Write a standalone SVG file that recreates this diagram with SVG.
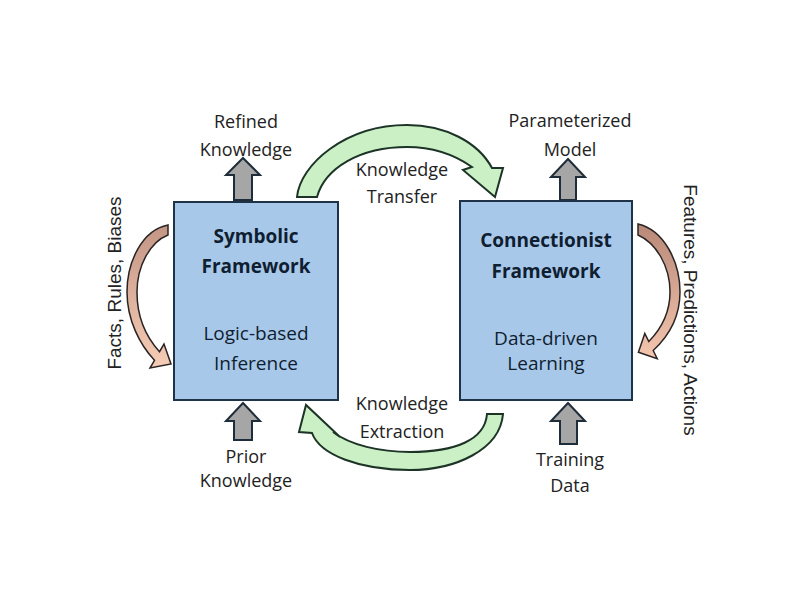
<svg xmlns="http://www.w3.org/2000/svg" width="800" height="600" viewBox="0 0 800 600">
<defs>
<style>
.box{fill:#a8c8ea;stroke:#1e3348;stroke-width:2}
.title{font-family:"Open Sans","Liberation Sans",sans-serif;font-size:19px;font-weight:bold;fill:#0f1e30;text-anchor:middle}
.sub{font-family:"Open Sans","Liberation Sans",sans-serif;font-size:19px;fill:#0f1e30;text-anchor:middle}
.lbl{font-family:"Open Sans","Liberation Sans",sans-serif;font-size:18px;fill:#222;text-anchor:middle}
.side{font-family:"Liberation Sans",Arial,sans-serif;font-size:19px;fill:#222;text-anchor:middle}
.gray{fill:#a6a6a6;stroke:#1f2d3a;stroke-width:2;stroke-linejoin:miter}
.green{fill:#ccf0c6;stroke:#1c3326;stroke-width:2;stroke-linejoin:miter}
.peachL{fill:url(#gL);stroke:#2a2424;stroke-width:1.5}
.peachR{fill:url(#gR);stroke:#2a2424;stroke-width:1.5}
</style>
<linearGradient id="gL" x1="0" y1="0" x2="0" y2="1">
<stop offset="0" stop-color="#c39585"/>
<stop offset="1" stop-color="#f6cdb6"/>
</linearGradient>
<linearGradient id="gR" x1="0" y1="0" x2="0" y2="1">
<stop offset="0" stop-color="#b88878"/>
<stop offset="1" stop-color="#f4c6ae"/>
</linearGradient>
</defs>
<rect width="800" height="600" fill="#ffffff"/>

<g id="connectors">
<path class="green" d="M297,197 C300,165 345,125 407,125 C445,125 478,142 492,168 L503,168 L495,197 L463,170 L472,167 C455,155 435,147 407,147 C360,147 325,168 317,197 Z"/>
<path class="green" d="M503,414 C500,450 455,470 410,470 C360,470 320,455 312,433 L299,432 L306,405 L340,437 L333,432 C350,445 380,452 410,452 C455,452 485,440 487,414 Z"/>
<path class="peachL" d="M168,225 C142,230 127,262 127,292 C127,320 140,345 154.5,360.3 L150,368 L171,364 L164,344 L159.5,351.7 C147,338 137,318 137,292 C137,266 150,242 168,235 Z"/>
<path class="peachR" d="M638,224 C664,230 680,262 680,292 C680,315 670,335 653.2,350.5 L657.2,358.6 L638.4,352.2 L644.8,333.4 L648.8,341.5 C662,328 670,312 670,292 C670,266 656,243 638,235 Z"/>
<polygon class="gray" points="243,158 260,175 252,175 252,200 234,200 234,175 226,175"/>
<polygon class="gray" points="568,159 585,177 576,177 576,200 560,200 560,177 551,177"/>
<polygon class="gray" points="243,403 260,421 252,421 252,440 234,440 234,421 226,421"/>
<polygon class="gray" points="568,403 585,421 577,421 577,444 560,444 560,421 551,421"/>
</g>

<g id="symbolic">
<rect class="box" x="174" y="202" width="164" height="198"/>
<text class="title" x="256" y="243">Symbolic</text>
<text class="title" x="256" y="273">Framework</text>
<text class="sub" x="256" y="340">Logic-based</text>
<text class="sub" x="256" y="370">Inference</text>
</g>

<g id="connectionist">
<rect class="box" x="460" y="201" width="172" height="199"/>
<text class="title" x="546" y="247">Connectionist</text>
<text class="title" x="546" y="278">Framework</text>
<text class="sub" x="546" y="345">Data-driven</text>
<text class="sub" x="546" y="370">Learning</text>
</g>

<g id="labels">
<text class="lbl" x="246" y="128">Refined</text>
<text class="lbl" x="246" y="156">Knowledge</text>
<text class="lbl" x="570" y="127">Parameterized</text>
<text class="lbl" x="570" y="156">Model</text>
<text class="lbl" x="246" y="463">Prior</text>
<text class="lbl" x="246" y="487">Knowledge</text>
<text class="lbl" x="570" y="466">Training</text>
<text class="lbl" x="570" y="492">Data</text>
<text class="lbl" x="402" y="176">Knowledge</text>
<text class="lbl" x="402" y="203">Transfer</text>
<text class="lbl" x="402" y="410">Knowledge</text>
<text class="lbl" x="402" y="438">Extraction</text>
<text class="side" transform="translate(121,283) rotate(-90)">Facts, Rules, Biases</text>
<text class="side" transform="translate(684,310) rotate(90)">Features, Predictions, Actions</text>
</g>
</svg>
